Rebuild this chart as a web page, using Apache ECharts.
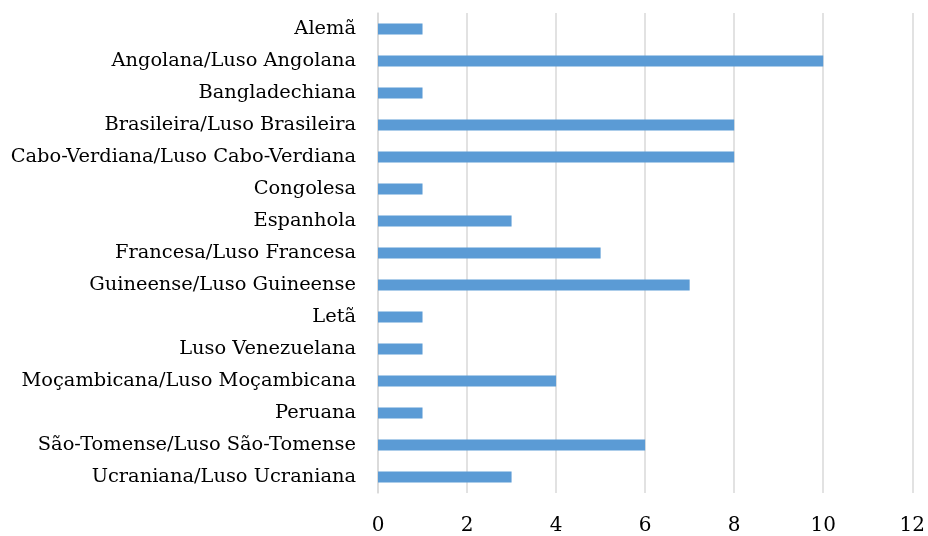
<!DOCTYPE html>
<html>
<head>
<meta charset="utf-8">
<script src="https://cdn.jsdelivr.net/npm/echarts@6/dist/echarts.min.js"></script>
<style>
  html, body { margin: 0; padding: 0; background: #fff; }
  #chart { width: 928px; height: 536px; }
</style>
</head>
<body>
<div id="chart"></div>
<script>
// Nationality categories, listed top to bottom
const categories = [
  'Alemã',
  'Angolana/Luso Angolana',
  'Bangladechiana',
  'Brasileira/Luso Brasileira',
  'Cabo-Verdiana/Luso Cabo-Verdiana',
  'Congolesa',
  'Espanhola',
  'Francesa/Luso Francesa',
  'Guineense/Luso Guineense',
  'Letã',
  'Luso Venezuelana',
  'Moçambicana/Luso Moçambicana',
  'Peruana',
  'São-Tomense/Luso São-Tomense',
  'Ucraniana/Luso Ucraniana'
];
// Count for each category
const counts = [1, 10, 1, 8, 8, 1, 3, 5, 7, 1, 1, 4, 1, 6, 3];
// Value axis range
const axisMin = 0;
const axisMax = 12;
const axisStep = 2;

const font = 'DejaVu Serif';
const chart = echarts.init(document.getElementById('chart'), null, { renderer: 'canvas' });
chart.setOption({
  animation: false,
  backgroundColor: '#ffffff',
  grid: { left: 378, right: 15, top: 13, bottom: 43, containLabel: false },
  xAxis: {
    type: 'value',
    min: axisMin,
    max: axisMax,
    interval: axisStep,
    axisLine: { show: false },
    axisTick: { show: false },
    axisLabel: { margin: 23, fontFamily: font, fontSize: 20, color: '#000' },
    splitLine: { show: true, lineStyle: { color: '#d9d9d9', width: 1.5 } }
  },
  yAxis: {
    type: 'category',
    data: categories,
    inverse: true,
    axisLine: { show: true, lineStyle: { color: '#d9d9d9', width: 1.5 } },
    axisTick: { show: false },
    axisLabel: { margin: 22, fontFamily: font, fontSize: 19.4, color: '#000' }
  },
  series: [{
    type: 'bar',
    data: counts,
    barWidth: 11,
    itemStyle: { color: '#5b9bd5' }
  }]
});
</script>
</body>
</html>
